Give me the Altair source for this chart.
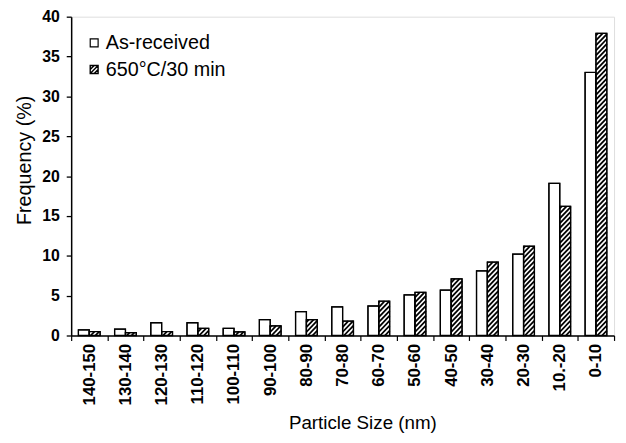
import altair as alt
import pandas as pd

# ---- data ----
categories = ["140-150", "130-140", "120-130", "110-120", "100-110", "90-100",
              "80-90", "70-80", "60-70", "50-60", "40-50", "30-40", "20-30",
              "10.-20", "0-10"]
as_received = [0.7, 0.8, 1.6, 1.6, 0.9, 2.0, 3.0, 3.6, 3.7, 5.1, 5.7, 8.1, 10.2, 19.1, 33.0]
annealed = [0.5, 0.35, 0.5, 0.9, 0.45, 1.2, 2.0, 1.8, 4.3, 5.4, 7.1, 9.2, 11.2, 16.2, 37.9]
series_names = ["As-received", "650°C/30 min"]

FONT = "Liberation Sans"

rows = []
for c, a, h in zip(categories, as_received, annealed):
    rows.append({"size": c, "series": series_names[0], "freq": a})
    rows.append({"size": c, "series": series_names[1], "freq": h})
bars_df = pd.DataFrame(rows)

# hatch stripes for the annealed bars (derived from the annealed values)
SPACING = 0.62   # vertical distance between stripes (data units)
RISE = 1.42      # rise of one stripe across the bar width (data units)
BAR_FRAC = 0.3   # bar width as a fraction of a category step
stripes = []
for i, v in enumerate(annealed):
    c = -RISE
    while c < v:
        f0 = max(0.0, -c / RISE)
        f1 = min(1.0, (v - c) / RISE)
        if f1 > f0:
            stripes.append({"x": i + BAR_FRAC * f0, "x2": i + BAR_FRAC * f1,
                            "y": c + RISE * f0, "y2": c + RISE * f1})
        c += SPACING
stripes_df = pd.DataFrame(stripes)

y_scale = alt.Scale(domain=[0, 40], nice=False)
y_axis = alt.Axis(
    title="Frequency (%)", values=list(range(0, 41, 5)), grid=False,
    tickSize=5, tickColor="black", tickWidth=1.3,
    domainColor="black", domainWidth=1.5,
    labelFont=FONT, labelFontSize=16, labelFontWeight="bold", labelColor="black",
    labelPadding=7,
    titleFont=FONT, titleFontSize=20, titleFontWeight="normal", titleColor="black",
    titleAngle=270, titleX=-47, titleY=145, titleAlign="center", titleBaseline="middle",
)

x_axis = alt.Axis(
    title="Particle Size (nm)", tickBand="extent", grid=False,
    tickSize=5, tickColor="black", tickWidth=1.2,
    domainColor="black", domainWidth=1.5,
    labelAngle=270, labelAlign="right", labelBaseline="middle",
    labelFont=FONT, labelFontSize=17, labelFontWeight="bold", labelColor="black",
    labelPadding=3,
    titleFont=FONT, titleFontSize=19, titleFontWeight="normal", titleColor="black",
    titleX=295, titleY=94, titleAlign="center", titleBaseline="alphabetic",
)

x_scale = alt.Scale(paddingInner=0, paddingOuter=0, round=False)
xo = alt.XOffset("series:N", sort=series_names,
                 scale=alt.Scale(domain=series_names, paddingInner=0, paddingOuter=0.667))

fill_layer = alt.Chart(bars_df).mark_bar(fill="white", stroke="black", strokeWidth=1.2).encode(
    x=alt.X("size:N", sort=categories, scale=x_scale, axis=x_axis),
    xOffset=xo,
    y=alt.Y("freq:Q", scale=y_scale, axis=y_axis),
)

stripe_layer = alt.Chart(stripes_df).mark_rule(color="black", strokeWidth=1.8).encode(
    x=alt.X("x:Q", scale=alt.Scale(domain=[-0.5, len(categories) - 0.5], nice=False, zero=False), axis=None),
    x2="x2:Q",
    y=alt.Y("y:Q", scale=y_scale, axis=y_axis),
    y2="y2:Q",
)

outline_layer = alt.Chart(bars_df).mark_bar(fillOpacity=0, stroke="black", strokeWidth=1.3).encode(
    x=alt.X("size:N", sort=categories, scale=x_scale, axis=None),
    xOffset=xo,
    y=alt.Y("freq:Q", scale=y_scale, axis=y_axis),
)

# manual legend
leg1_df = pd.DataFrame({"label": [series_names[0]]})
leg2_df = pd.DataFrame({"label": [series_names[1]]})
HATCH_PATH = "M-1,-1H1V1H-1Z M-1,0L0,-1 M-1,1L1,-1 M0,1L1,0"

leg_sq1 = alt.Chart(leg1_df).mark_square(size=64, fill="white", stroke="black", strokeWidth=1.2, opacity=1).encode(
    x=alt.value(23.3), y=alt.value(26.5))
leg_sq2 = alt.Chart(leg2_df).mark_point(shape=HATCH_PATH, size=64, filled=False, stroke="black", strokeWidth=1.4, opacity=1).encode(
    x=alt.value(23.3), y=alt.value(53.5))
leg_t1 = alt.Chart(leg1_df).mark_text(align="left", baseline="alphabetic", font=FONT, fontSize=20, color="black").encode(
    x=alt.value(35), y=alt.value(32.5), text="label:N")
leg_t2 = alt.Chart(leg2_df).mark_text(align="left", baseline="alphabetic", font=FONT, fontSize=20, color="black").encode(
    x=alt.value(35), y=alt.value(60), text="label:N")

chart = alt.layer(
    fill_layer, stripe_layer, outline_layer, leg_sq1, leg_sq2, leg_t1, leg_t2
).resolve_scale(x="independent").properties(
    width=550, height=323,
    autosize=alt.AutoSizeParams(type="none"),
    padding={"left": 64, "top": 6, "right": 4, "bottom": 98},
).configure_view(stroke="black", strokeWidth=1.2).configure(font=FONT)

chart.save("out.html", embed_options={"renderer": "svg", "actions": False})
